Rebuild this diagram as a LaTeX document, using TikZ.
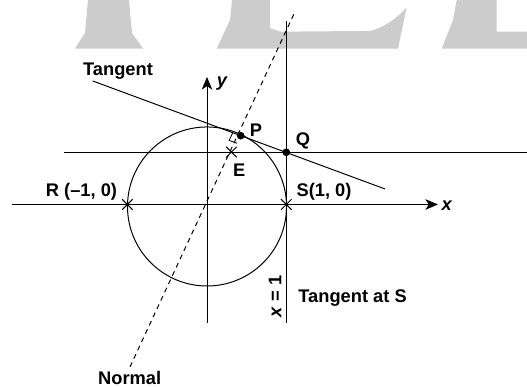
\documentclass[tikz,border=0pt]{standalone}
\usepackage{fontspec}
\setmainfont{Liberation Sans}
\usetikzlibrary{arrows.meta,calc,shapes.misc}
\begin{document}
\begin{tikzpicture}[x=2cm,y=2cm,line width=0.7pt,every node/.style={font=\fontsize{13}{15}\selectfont\bfseries, inner sep=1pt, outer sep=0pt},
  axisarrow/.style={-{Stealth[length=9pt,width=7.5pt,inset=2.5pt]}},
  crossmark/.style={draw, cross out, minimum size=7.5pt, inner sep=0pt, line width=0.7pt},
  dotmark/.style={fill, circle, minimum size=5.5pt, inner sep=0pt}]
\useasboundingbox (-2.5875,-2.281) rectangle (4.0,2.556);
\fill[black!20] (-1.65,1.9475) -- (-1.525,2.144) -- (-1.4875,2.556) -- (-0.975,2.556) -- (-0.9375,2.144) -- (-0.8,1.9475) -- cycle;
\fill[black!20] (0.121,1.9475) -- (0.2875,2.306) -- (0.3125,2.556) -- (0.7875,2.556) -- (0.7875,2.206) -- (0.9125,2.16) -- (2.0375,2.169) .. controls (2.2,2.2) and (2.4,2.35) .. (2.496,2.465) -- (2.3875,1.9475) -- cycle;
\fill[black!20] (2.934,1.9475) -- (3.075,2.306) -- (3.121,2.556) -- (3.621,2.556) -- (3.621,2.16) -- (4.0,2.16) -- (4.0,1.9475) -- cycle;
\coordinate (O) at (0,0);
\coordinate (Xl) at (-2.4375,0);
\coordinate (Xr) at (2.8875,0);
\coordinate (Yb) at (0,-1.4775);
\coordinate (Yt) at (0,1.594);
\coordinate (Vt) at (0.991,2.2975);
\coordinate (Vb) at (0.991,-1.4775);
\coordinate (Hl) at (-1.7875,0.6525);
\coordinate (Hr) at (4.0,0.6525);
\coordinate (Ts) at (-1.429,1.544);
\coordinate (Te) at (2.225,0.194);
\coordinate (Nt) at (1.1,2.41);
\coordinate (Nb) at (-0.9625,-2.03);
\draw[axisarrow] (Xl) -- (Xr);
\draw[axisarrow] (Yb) -- (Yt);
\draw (0,-0.025) circle (0.994);
\draw (Vb) -- (Vt);
\draw (Hl) -- (Hr);
\draw (Ts) -- (Te);
\draw[dash pattern=on 3.5pt off 3pt] (Nb) -- (Nt);
\node[dotmark] (P) at (0.421,0.86) {};
\node[dotmark] (Q) at (0.991,0.6525) {};
\node[crossmark] (E) at (0.305,0.655) {};
\node[crossmark] (R) at (-0.995,0) {};
\node[crossmark] (S) at (0.991,0) {};
\coordinate (m1) at ($(P.center)!6pt!(Ts)$);
\coordinate (m3) at ($(P.center)!6pt!(Nb)$);
\draw[line width=0.6pt] (m1) -- ($(m1)+(m3)-(P.center)$) -- (m3);
\node (tangentlabel) at (-1.1125,1.669) {Tangent};
\node (ylabel) at (0.1875,1.51) {\itshape y};
\node (plabel) at (0.6125,0.931) {P};
\node (qlabel) at (1.2,0.7975) {Q};
\node (elabel) at (0.404,0.431) {E};
\node (rlabel) at (-1.569,0.16) {R (\textendash1, 0)};
\node (slabel) at (1.4625,0.16) {S(1, 0)};
\node (xlabel) at (2.996,-0.01) {\itshape x};
\node[rotate=90] (xonelabel) at (0.85,-1.1475) {\textit{x} = 1};
\node[anchor=west] (tslabel) at (1.125,-1.1725) {Tangent at S};
\node (normallabel) at (-0.966,-2.165) {Normal};
\end{tikzpicture}
\end{document}
